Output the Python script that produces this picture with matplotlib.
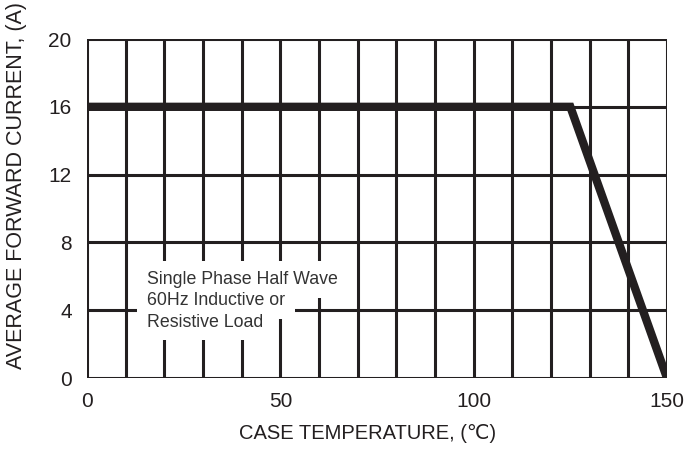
import matplotlib
matplotlib.use("Agg")
import matplotlib.pyplot as plt
import numpy as np

plt.rcParams['font.family'] = ['Liberation Sans', 'DejaVu Sans']

# derating curve
temp = [0, 125, 150]
current = [16, 16, 0]

x_ticks = [0, 50, 100, 150]
y_ticks = [0, 4, 8, 12, 16, 20]
note_lines = ["Single Phase Half Wave", "60Hz Inductive or", "Resistive Load"]

ink = "#231f20"

fig = plt.figure(figsize=(6.89, 4.49), dpi=100)
ax = fig.add_axes([0.1263, 0.1581, 0.8418, 0.755])

# grid: every 10 degC, every 4 A
for gx in np.arange(0, 151, 10):
    ax.axvline(gx, color=ink, lw=2.2, zorder=1)
for gy in y_ticks:
    ax.axhline(gy, color=ink, lw=2.2, zorder=1)

ax.plot(temp, current, color=ink, lw=6, solid_joinstyle='miter', zorder=3)

# note: white patch per line first, then the text on top
for i, line in enumerate(note_lines):
    y = 5.8 - i * 1.25
    ax.text(15.5, y, line, fontsize=12.8, color='none', va='center', ha='left',
            zorder=4, bbox=dict(facecolor='white', edgecolor='none', pad=7))
    ax.text(15.5, y, line, fontsize=12.8, color="#333333", va='center', ha='left',
            zorder=5)

ax.set_xlim(0, 150)
ax.set_ylim(0, 20)
ax.set_xticks(x_ticks)
ax.set_yticks(y_ticks)
ax.tick_params(length=0, labelsize=15, colors=ink)
ax.tick_params(axis='y', pad=11)
ax.tick_params(axis='x', pad=10)
for s in ax.spines.values():
    s.set_visible(False)

ax.set_xlabel("CASE TEMPERATURE, (℃)", fontsize=14.5, color=ink)
ax.set_ylabel("AVERAGE FORWARD CURRENT, (A)", fontsize=15.5, color=ink)
ax.xaxis.set_label_coords(0.483, -0.135)
ax.yaxis.set_label_coords(-0.103, 0.569)

fig.savefig("out.png", dpi=100)
